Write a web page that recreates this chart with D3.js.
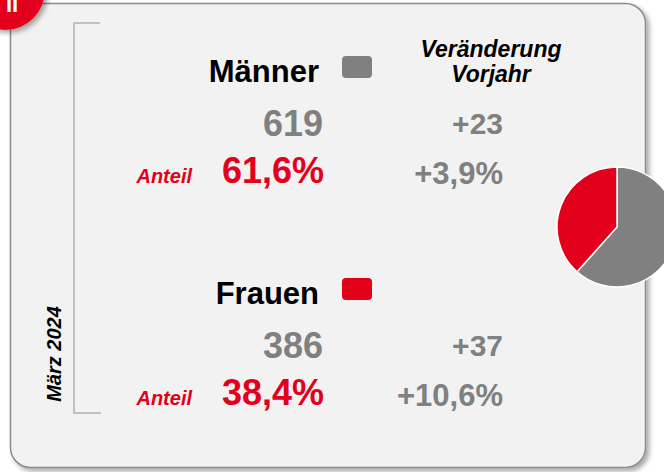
<!DOCTYPE html>
<html>
<head>
<meta charset="utf-8" />
<title>Männer / Frauen März 2024</title>
<script type="text/javascript" src="https://d3js.org/d3.v7.min.js"></script>
<style type="text/css">
    body { margin: 0; background: #ffffff; }
    svg text { font-family: "Liberation Sans", Arial, sans-serif; font-weight: bold; }
</style>
</head>
<body>
<svg width="664" height="472"></svg>
<script>
    // data
    var categories = ["Männer", "Frauen"];
    var counts = [619, 386];
    var shares = [61.6, 38.4];        // Anteil in %
    var changeAbs = [23, 37];         // Veränderung Vorjahr absolut
    var changePct = [3.9, 10.6];      // Veränderung Vorjahr in %
    var periodLabel = "März 2024";
    var headerLines = ["Veränderung", "Vorjahr"];
    var shareLabel = "Anteil";

    var red = "#e2001a";
    var grey = "#808080";
    var colors = [grey, red];

    var fmt = function (v, d) { return d3.format("." + d + "f")(v).replace(".", ","); };

    var svg = d3.select("svg");

    // shadow filter
    var defs = svg.append("defs");
    var f = defs.append("filter").attr("id", "shadow")
        .attr("x", "-10%").attr("y", "-10%").attr("width", "120%").attr("height", "120%");
    f.append("feDropShadow").attr("dx", 3).attr("dy", 3).attr("stdDeviation", 2.5)
        .attr("flood-color", "#000").attr("flood-opacity", 0.35);

    // panel
    svg.append("rect")
        .attr("x", 10.5).attr("y", 3.5).attr("width", 635).attr("height", 464)
        .attr("rx", 20).attr("ry", 20)
        .attr("fill", "#f2f2f2").attr("stroke", "#8c8c8c").attr("stroke-width", 1.5)
        .attr("filter", "url(#shadow)");

    // badge top left (cut off by the page edge, as in the original)
    svg.append("circle").attr("cx", 5).attr("cy", -10).attr("r", 40)
        .attr("fill", red).attr("filter", "url(#shadow)");
    svg.append("text").attr("x", 12).attr("y", 12).attr("text-anchor", "middle")
        .attr("font-size", 22).attr("fill", "#fff").text("II");

    // bracket
    svg.append("path")
        .attr("d", "M100,23H74V413H101")
        .attr("fill", "none").attr("stroke", "#c0c0c0").attr("stroke-width", 2);

    svg.append("text")
        .attr("transform", "translate(61,354) rotate(-90)")
        .attr("text-anchor", "middle").attr("font-size", 20).attr("font-style", "italic")
        .attr("fill", "#000").text(periodLabel);

    // header
    var header = svg.append("text").attr("text-anchor", "middle")
        .attr("font-size", 23).attr("font-style", "italic").attr("fill", "#000");
    header.selectAll("tspan").data(headerLines).enter().append("tspan")
        .attr("x", 491).attr("y", function (d, i) { return 57 + i * 25; })
        .text(function (d) { return d; });

    // blocks
    var rowY = d3.scaleOrdinal().domain(categories).range([0, 222]);

    var blocks = svg.selectAll("g.block").data(categories).enter().append("g")
        .attr("class", "block")
        .attr("transform", function (d) { return "translate(0," + rowY(d) + ")"; });

    blocks.append("text").attr("x", 319).attr("y", 82).attr("text-anchor", "end")
        .attr("font-size", 31).attr("fill", "#000").text(function (d) { return d; });

    blocks.append("rect").attr("x", 342).attr("y", 56).attr("width", 30).attr("height", 22)
        .attr("rx", 4).attr("fill", function (d, i) { return colors[i]; });

    blocks.append("text").attr("x", 323).attr("y", 136).attr("text-anchor", "end")
        .attr("font-size", 36).attr("fill", grey).text(function (d, i) { return counts[i]; });

    blocks.append("text").attr("x", 503).attr("y", 134).attr("text-anchor", "end")
        .attr("font-size", 30).attr("fill", grey).text(function (d, i) { return "+" + changeAbs[i]; });

    blocks.append("text").attr("x", 192).attr("y", 183).attr("text-anchor", "end")
        .attr("font-size", 20).attr("font-style", "italic").attr("fill", red).text(shareLabel);

    blocks.append("text").attr("x", 324).attr("y", 183).attr("text-anchor", "end")
        .attr("font-size", 36).attr("fill", red).text(function (d, i) { return fmt(shares[i], 1) + "%"; });

    blocks.append("text").attr("x", 503).attr("y", 184).attr("text-anchor", "end")
        .attr("font-size", 31).attr("fill", grey).text(function (d, i) { return "+" + fmt(changePct[i], 1) + "%"; });

    // pie
    var pie = d3.pie().sort(null);
    var arc = d3.arc().innerRadius(0).outerRadius(60);
    var pg = svg.append("g").attr("transform", "translate(617,227)");
    pg.selectAll("path").data(pie(shares)).enter().append("path")
        .attr("d", arc)
        .attr("fill", function (d, i) { return colors[i]; })
        .attr("stroke", "#fff").attr("stroke-width", 1.5);
</script>
</body>
</html>
